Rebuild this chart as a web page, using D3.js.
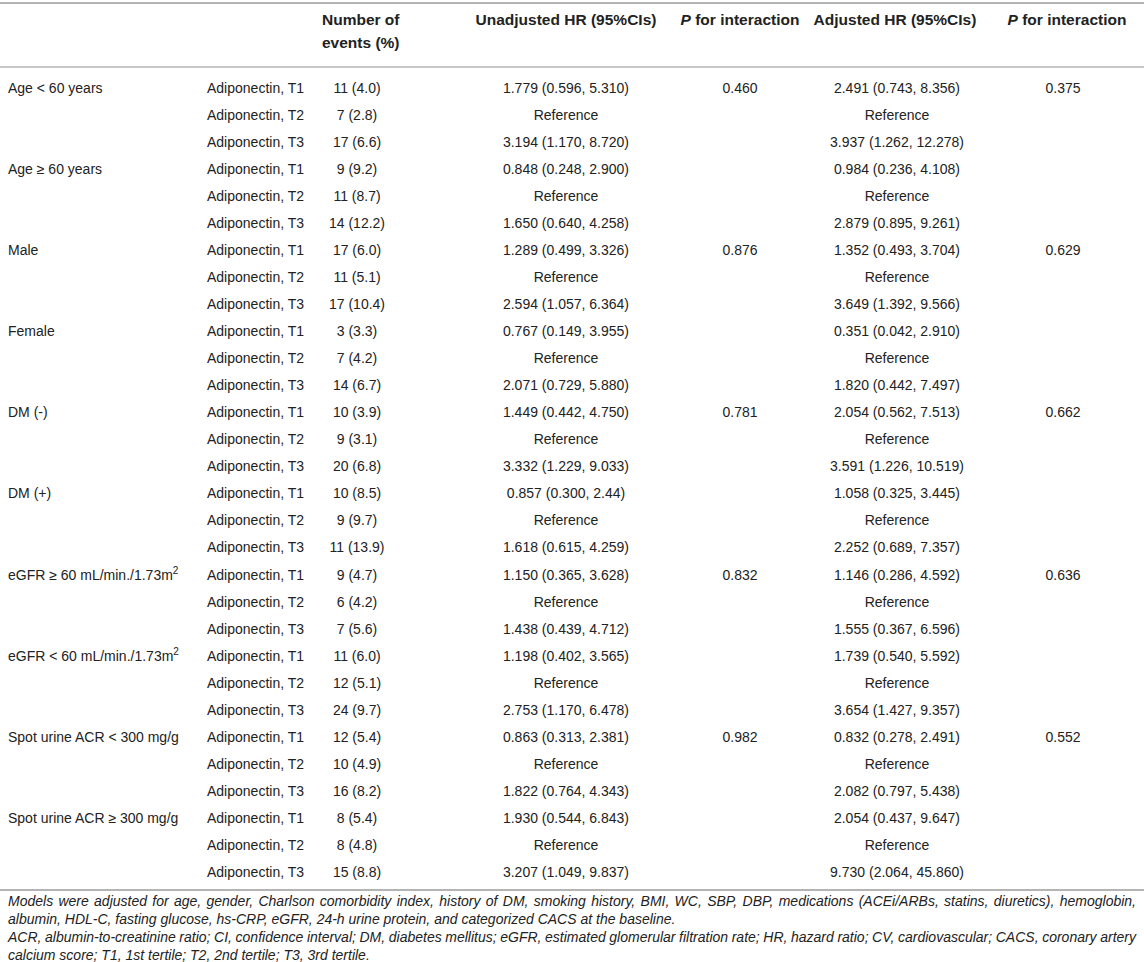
<!DOCTYPE html>
<html><head><meta charset="utf-8">
<script src="https://cdn.jsdelivr.net/npm/d3@7"></script>
<style>
html,body{margin:0;padding:0;background:#fff;}
text{font-family:"Liberation Sans",Arial,Helvetica,sans-serif;fill:#222;}
</style></head><body>
<svg id="c" width="1144" height="962"></svg>
<script>
const subgroups = ["Age < 60 years","Age \u2265 60 years","Male","Female","DM (-)","DM (+)","eGFR \u2265 60 mL/min./1.73m","eGFR < 60 mL/min./1.73m","Spot urine ACR < 300 mg/g","Spot urine ACR \u2265 300 mg/g"];
const superscripts = [null,null,null,null,null,null,"2","2",null,null];
const tertiles = ["Adiponectin, T1","Adiponectin, T2","Adiponectin, T3"];
const events = ["11 (4.0)","7 (2.8)","17 (6.6)","9 (9.2)","11 (8.7)","14 (12.2)","17 (6.0)","11 (5.1)","17 (10.4)","3 (3.3)","7 (4.2)","14 (6.7)","10 (3.9)","9 (3.1)","20 (6.8)","10 (8.5)","9 (9.7)","11 (13.9)","9 (4.7)","6 (4.2)","7 (5.6)","11 (6.0)","12 (5.1)","24 (9.7)","12 (5.4)","10 (4.9)","16 (8.2)","8 (5.4)","8 (4.8)","15 (8.8)"];
const unadjustedHR = ["1.779 (0.596, 5.310)","Reference","3.194 (1.170, 8.720)","0.848 (0.248, 2.900)","Reference","1.650 (0.640, 4.258)","1.289 (0.499, 3.326)","Reference","2.594 (1.057, 6.364)","0.767 (0.149, 3.955)","Reference","2.071 (0.729, 5.880)","1.449 (0.442, 4.750)","Reference","3.332 (1.229, 9.033)","0.857 (0.300, 2.44)","Reference","1.618 (0.615, 4.259)","1.150 (0.365, 3.628)","Reference","1.438 (0.439, 4.712)","1.198 (0.402, 3.565)","Reference","2.753 (1.170, 6.478)","0.863 (0.313, 2.381)","Reference","1.822 (0.764, 4.343)","1.930 (0.544, 6.843)","Reference","3.207 (1.049, 9.837)"];
const adjustedHR = ["2.491 (0.743, 8.356)","Reference","3.937 (1.262, 12.278)","0.984 (0.236, 4.108)","Reference","2.879 (0.895, 9.261)","1.352 (0.493, 3.704)","Reference","3.649 (1.392, 9.566)","0.351 (0.042, 2.910)","Reference","1.820 (0.442, 7.497)","2.054 (0.562, 7.513)","Reference","3.591 (1.226, 10.519)","1.058 (0.325, 3.445)","Reference","2.252 (0.689, 7.357)","1.146 (0.286, 4.592)","Reference","1.555 (0.367, 6.596)","1.739 (0.540, 5.592)","Reference","3.654 (1.427, 9.357)","0.832 (0.278, 2.491)","Reference","2.082 (0.797, 5.438)","2.054 (0.437, 9.647)","Reference","9.730 (2.064, 45.860)"];
// P for interaction, on the first row of each pair of subgroups
const pUnadjusted = ["0.460","0.876","0.781","0.832","0.982"];
const pAdjusted = ["0.375","0.629","0.662","0.636","0.552"];
const footnotes = [
 "Models were adjusted for age, gender, Charlson comorbidity index, history of DM, smoking history, BMI, WC, SBP, DBP, medications (ACEi/ARBs, statins, diuretics), hemoglobin,",
 "albumin, HDL-C, fasting glucose, hs-CRP, eGFR, 24-h urine protein, and categorized CACS at the baseline.",
 "ACR, albumin-to-creatinine ratio; CI, confidence interval; DM, diabetes mellitus; eGFR, estimated glomerular filtration rate; HR, hazard ratio; CV, cardiovascular; CACS, coronary artery",
 "calcium score; T1, 1st tertile; T2, 2nd tertile; T3, 3rd tertile."
];
const justified = [true,false,true,false];

const svg = d3.select("#c");
const W = 1144;
const nRows = subgroups.length * tertiles.length;
const y = d3.scalePoint().domain(d3.range(nRows)).range([88, 872]);
const fs = 14;

const lineCol = "#b4b4b4";
svg.append("line").attr("x1",0).attr("x2",W).attr("y1",3).attr("y2",3).attr("stroke",lineCol).attr("stroke-width",2);
svg.append("line").attr("x1",0).attr("x2",W).attr("y1",67).attr("y2",67).attr("stroke",lineCol).attr("stroke-width",1.5);
svg.append("line").attr("x1",0).attr("x2",W).attr("y1",890).attr("y2",890).attr("stroke",lineCol).attr("stroke-width",2);

// header
const hdr = svg.append("g").attr("font-size",15.5).attr("font-weight","bold");
hdr.append("text").attr("x",322).attr("y",20).attr("dy","0.35em").text("Number of");
hdr.append("text").attr("x",322).attr("y",43).attr("dy","0.35em").text("events (%)");
hdr.append("text").attr("x",566).attr("y",20).attr("dy","0.35em").attr("text-anchor","middle").text("Unadjusted HR (95%CIs)");
const h1 = hdr.append("text").attr("x",740).attr("y",20).attr("dy","0.35em").attr("text-anchor","middle");
h1.append("tspan").attr("font-style","italic").text("P");
h1.append("tspan").text(" for interaction");
hdr.append("text").attr("x",895).attr("y",20).attr("dy","0.35em").attr("text-anchor","middle").text("Adjusted HR (95%CIs)");
const h2 = hdr.append("text").attr("x",1067).attr("y",20).attr("dy","0.35em").attr("text-anchor","middle");
h2.append("tspan").attr("font-style","italic").text("P");
h2.append("tspan").text(" for interaction");

const body = svg.append("g").attr("font-size",fs);
subgroups.forEach((s,i)=>{
  const t = body.append("text").attr("x",8).attr("y",y(i*3)).attr("dy","0.35em").text(s);
  if (superscripts[i]) t.append("tspan").attr("font-size",10).attr("dy","-0.55em").text(superscripts[i]);
});
d3.range(nRows).forEach(r=>{
  const yy = y(r);
  body.append("text").attr("x",207).attr("y",yy).attr("dy","0.35em").text(tertiles[r%3]);
  body.append("text").attr("x",357).attr("y",yy).attr("dy","0.35em").attr("text-anchor","middle").text(events[r]);
  body.append("text").attr("x",566).attr("y",yy).attr("dy","0.35em").attr("text-anchor","middle").text(unadjustedHR[r]);
  body.append("text").attr("x",897).attr("y",yy).attr("dy","0.35em").attr("text-anchor","middle").text(adjustedHR[r]);
});
pUnadjusted.forEach((p,k)=>{
  body.append("text").attr("x",740).attr("y",y(k*6)).attr("dy","0.35em").attr("text-anchor","middle").text(p);
});
pAdjusted.forEach((p,k)=>{
  body.append("text").attr("x",1063).attr("y",y(k*6)).attr("dy","0.35em").attr("text-anchor","middle").text(p);
});

// footnotes (justified paragraph lines)
const fnX = 8, fnRight = 1136;
const fn = svg.append("g").attr("font-size",14).attr("font-style","italic");
footnotes.forEach((f,i)=>{
  const t = fn.append("text").attr("x",fnX).attr("y",901 + i*18).attr("dy","0.35em").attr("fill","#333").text(f);
  if (justified[i]) {
    const natural = t.node().getComputedTextLength();
    const spaces = (f.match(/ /g) || []).length;
    t.attr("word-spacing", ((fnRight - fnX) - natural) / spaces);
  } else {
    const natural = t.node().getComputedTextLength();
    if (natural > fnRight - fnX) t.attr("textLength", fnRight - fnX);
  }
});
</script></body></html>
